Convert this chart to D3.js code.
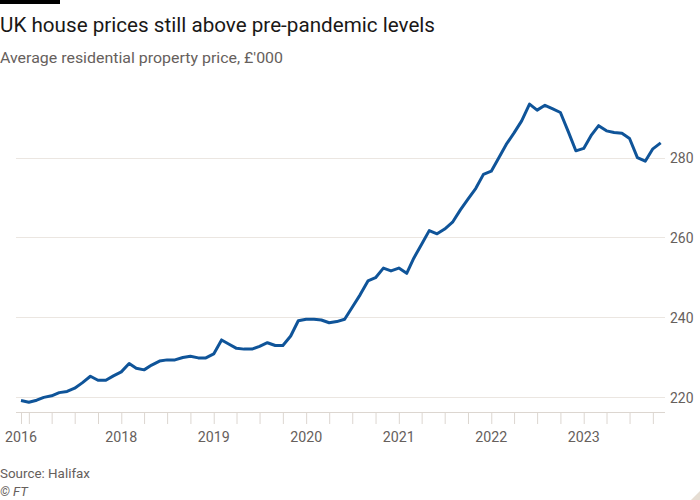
<!DOCTYPE html>
<html>
<head>
<meta charset="utf-8">
<script src="https://cdn.jsdelivr.net/npm/d3@7"></script>
<style>
  html, body { margin: 0; padding: 0; background: #ffffff; }
  svg { display: block; }
</style>
</head>
<body>
<svg id="chart" width="700" height="500"></svg>
<script>
// ---- data ----
const startMonth = "2016-12"; // first observation
const prices = [
  219.1, 218.7, 219.2, 219.9, 220.3, 221.1, 221.4, 222.2, 223.6, 225.2, 224.2, 224.2,
  225.3, 226.3, 228.4, 227.2, 226.8, 228.0, 229.0, 229.3, 229.3, 229.9, 230.2, 229.8,
  229.8, 230.8, 234.3, 233.3, 232.2, 232.0, 232.0, 232.7, 233.6, 232.9, 232.9, 235.3,
  239.1, 239.5, 239.5, 239.3, 238.6, 238.9, 239.5, 242.5, 245.6, 249.1, 249.9, 252.3,
  251.6, 252.3, 251.0, 254.8, 258.3, 261.7, 260.9, 262.1, 263.8, 266.9, 269.6, 272.3,
  275.8, 276.6, 280.1, 283.3, 286.2, 289.2, 293.4, 291.9, 293.1, 292.2, 291.3, 286.5,
  281.7, 282.3, 285.7, 288.0, 286.7, 286.3, 286.1, 284.8, 280.0, 279.1, 282.2, 283.7
];
const yTicks = [220, 240, 260, 280];
const xLabelDates = ["2016-12", "2018-01", "2019-01", "2020-01", "2021-01", "2022-01", "2023-01"];
const xLabels = ["2016", "2018", "2019", "2020", "2021", "2022", "2023"];
const title = "UK house prices still above pre-pandemic levels";
const subtitle = "Average residential property price, £'000";
const source = "Source: Halifax";
const credit = "© FT";

// ---- build ----
const parse = d3.timeParse("%Y-%m");
const t0 = parse(startMonth);
const data = prices.map((v, i) => ({ date: d3.timeMonth.offset(t0, i), value: v }));
const lastDate = data[data.length - 1].date;

const svg = d3.select("#chart");
const fontFam = "Roboto, 'Open Sans', sans-serif";

const x = d3.scaleTime().domain([t0, lastDate]).range([21, 660.7]);
const y = d3.scaleLinear().domain([220, 280]).range([397, 157.6]);

const gridX0 = 16, gridX1 = 665;

// top bar
svg.append("rect").attr("x", 0).attr("y", 0).attr("width", 60).attr("height", 4).attr("fill", "#000");

// title & subtitle
svg.append("text").attr("x", 0).attr("y", 32)
  .attr("font-family", fontFam).attr("font-size", 20.5).attr("fill", "#1a1817")
  .attr("textLength", 435).attr("lengthAdjust", "spacingAndGlyphs")
  .text(title);
svg.append("text").attr("x", 0).attr("y", 63)
  .attr("font-family", fontFam).attr("font-size", 14.5).attr("fill", "#66605c")
  .attr("textLength", 283).attr("lengthAdjust", "spacingAndGlyphs")
  .text(subtitle);

// y grid + labels
const gy = svg.append("g");
gy.selectAll("line").data(yTicks).join("line")
  .attr("x1", gridX0).attr("x2", gridX1)
  .attr("y1", d => Math.round(y(d)) + 0.5).attr("y2", d => Math.round(y(d)) + 0.5)
  .attr("stroke", "#ebe6e1").attr("stroke-width", 1);
gy.selectAll("text").data(yTicks).join("text")
  .attr("x", 670).attr("y", d => y(d) + 5.5)
  .attr("font-family", fontFam).attr("font-size", 14).attr("fill", "#66605c")
  .attr("textLength", 23.5).attr("lengthAdjust", "spacingAndGlyphs")
  .text(d => d);

// x axis
const quarterTicks = [t0].concat(d3.timeMonth.every(3).range(parse("2017-01"), d3.timeMonth.offset(lastDate, 1)));
const axisY = 412;
const xAxis = d3.axisBottom(x)
  .tickValues(quarterTicks)
  .tickSize(12)
  .tickFormat(() => "");
const gx = svg.append("g").attr("transform", `translate(0,${axisY})`).call(xAxis);
gx.select(".domain").remove();
gx.selectAll(".tick line").attr("stroke", "#dcd6d0").attr("stroke-width", 1);
svg.append("line").attr("x1", gridX0).attr("x2", gridX1)
  .attr("y1", axisY + 0.5).attr("y2", axisY + 0.5)
  .attr("stroke", "#dcd6d0").attr("stroke-width", 1);

svg.append("g").selectAll("text").data(xLabelDates).join("text")
  .attr("x", d => x(parse(d))).attr("y", 442)
  .attr("text-anchor", "middle")
  .attr("font-family", fontFam).attr("font-size", 14).attr("fill", "#66605c")
  .attr("textLength", 32).attr("lengthAdjust", "spacingAndGlyphs")
  .text((d, i) => xLabels[i]);

// line
const line = d3.line().x(d => x(d.date)).y(d => y(d.value)).curve(d3.curveLinear);
svg.append("path").datum(data)
  .attr("d", line).attr("fill", "none")
  .attr("stroke", "#0f5499").attr("stroke-width", 3)
  .attr("stroke-linejoin", "round").attr("stroke-linecap", "butt");

// source / credit
svg.append("text").attr("x", 0).attr("y", 478)
  .attr("font-family", fontFam).attr("font-size", 13).attr("fill", "#66605c")
  .attr("textLength", 90).attr("lengthAdjust", "spacingAndGlyphs")
  .text(source);
svg.append("text").attr("x", 0).attr("y", 496)
  .attr("font-family", fontFam).attr("font-size", 13).attr("font-style", "italic").attr("fill", "#66605c")
  .text(credit);

// corner mark
svg.append("path").attr("d", "M700,491 L700,500 L691,500 Z").attr("fill", "#e6ddd3");
</script>
</body>
</html>
